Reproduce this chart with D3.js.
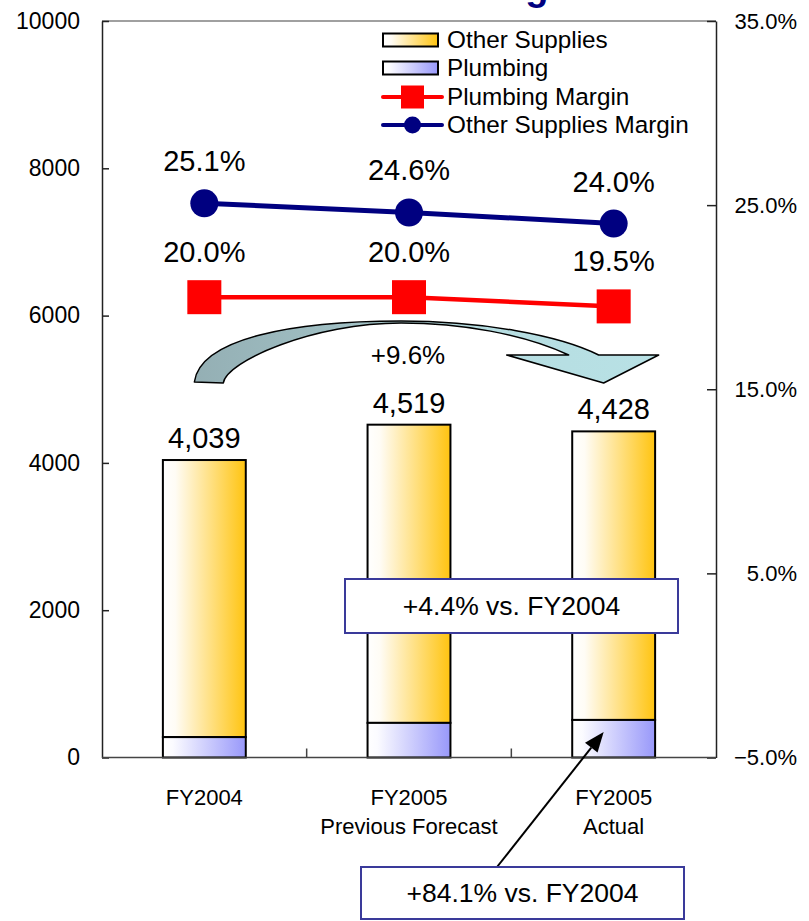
<!DOCTYPE html>
<html>
<head>
<meta charset="utf-8">
<script src="https://cdn.jsdelivr.net/npm/d3@7"></script>
<style>
  html, body { margin: 0; padding: 0; background: #ffffff; }
  svg { display: block; font-family: "Liberation Sans", Arial, sans-serif; }
</style>
</head>
<body>
<svg id="chart" width="809" height="921"></svg>
<script>
// ---- data ----
const categories = [["FY2004"], ["FY2005", "Previous Forecast"], ["FY2005", "Actual"]];
const plumbing = [277, 470, 510];
const otherSupplies = [3762, 4049, 3918];
const plumbingMargin = [20.0, 20.0, 19.5];
const otherSuppliesMargin = [25.1, 24.6, 24.0];
const leftTicks = [0, 2000, 4000, 6000, 8000, 10000];
const rightTicks = [-5, 5, 15, 25, 35];
const legendLabels = ["Other Supplies", "Plumbing", "Plumbing Margin", "Other Supplies Margin"];
const titleText = "Gross Profit Margin";
const growthTotal = "+9.6%";
const growthOther = "+4.4% vs. FY2004";
const growthPlumbing = "+84.1% vs. FY2004";

// ---- layout ----
const plot = { left: 102, right: 716, top: 21, bottom: 757.5 };
const NAVY = "#000080", RED = "#ff0000";

const svg = d3.select("#chart");
const defs = svg.append("defs");

function hGradient(id, stops) {
  const g = defs.append("linearGradient").attr("id", id)
    .attr("x1", 0).attr("y1", 0).attr("x2", 1).attr("y2", 0);
  stops.forEach(([o, c]) => g.append("stop").attr("offset", o).attr("stop-color", c));
}
hGradient("gradOther", [[0, "#ffffff"], [0.15, "#fffcf5"], [1, "#ffc410"]]);
hGradient("gradPlumb", [[0, "#ffffff"], [0.12, "#fbfbff"], [1, "#9898fa"]]);
hGradient("gradCurve", [[0, "#94afb4"], [0.45, "#a5c6ca"], [0.6, "#b6dde1"], [1, "#b8e1e5"]]);

const x = d3.scaleBand()
  .domain(d3.range(categories.length))
  .range([plot.left, plot.right])
  .paddingInner(0.595)
  .paddingOuter(0.2975);
const cx = i => x(i) + x.bandwidth() / 2;

const y = d3.scaleLinear().domain([0, 10000]).range([plot.bottom, plot.top]);
const y2 = d3.scaleLinear().domain([-5, 35]).range([plot.bottom, plot.top]);

// ---- title (runs off the top edge of the page) ----
svg.append("text")
  .attr("x", 405).attr("y", -0.5)
  .attr("text-anchor", "middle")
  .attr("font-size", 38).attr("font-weight", "bold")
  .attr("fill", NAVY)
  .text(titleText);

// ---- plot frame top ----
svg.append("line")
  .attr("x1", plot.left).attr("x2", plot.right)
  .attr("y1", plot.top).attr("y2", plot.top)
  .attr("stroke", "#808080").attr("stroke-width", 1.5);

// ---- stacked bars ----
const stacks = categories.map((c, i) => ({ i, p: plumbing[i], o: otherSupplies[i], total: plumbing[i] + otherSupplies[i] }));
const barG = svg.append("g");
barG.selectAll("rect.other").data(stacks).join("rect")
  .attr("class", "other")
  .attr("x", d => x(d.i)).attr("width", x.bandwidth())
  .attr("y", d => y(d.total)).attr("height", d => y(d.p) - y(d.total))
  .attr("fill", "url(#gradOther)").attr("stroke", "#000").attr("stroke-width", 2);
barG.selectAll("rect.plumb").data(stacks).join("rect")
  .attr("class", "plumb")
  .attr("x", d => x(d.i)).attr("width", x.bandwidth())
  .attr("y", d => y(d.p)).attr("height", d => y(0) - y(d.p))
  .attr("fill", "url(#gradPlumb)").attr("stroke", "#000").attr("stroke-width", 2);
barG.selectAll("text.total").data(stacks).join("text")
  .attr("class", "total")
  .attr("x", d => cx(d.i)).attr("y", d => y(d.total) - 12)
  .attr("text-anchor", "middle").attr("font-size", 29).attr("fill", "#000")
  .text(d => d3.format(",")(d.total));

// ---- axes ----
const axisColor = "#222";
const leftAxis = svg.append("g")
  .attr("transform", `translate(${plot.left},0)`)
  .call(d3.axisLeft(y).tickValues(leftTicks).tickSizeInner(-7).tickSizeOuter(0).tickPadding(22).tickFormat(d3.format("d")));
leftAxis.selectAll("text").attr("font-size", 23).attr("fill", "#000").attr("font-family", "Liberation Sans, Arial, sans-serif");

const rightAxis = svg.append("g")
  .attr("transform", `translate(${plot.right},0)`)
  .call(d3.axisRight(y2).tickValues(rightTicks).tickSizeInner(-9).tickSizeOuter(0).tickPadding(19)
    .tickFormat(d => d3.format(".1f")(d) + "%"));
rightAxis.selectAll("text")
  .attr("font-size", 22).attr("fill", "#000").attr("font-family", "Liberation Sans, Arial, sans-serif")
  .attr("text-anchor", "end").attr("x", 81);

[leftAxis, rightAxis].forEach(a => {
  a.select(".domain").attr("stroke", axisColor).attr("stroke-width", 1.5);
  a.selectAll(".tick line").attr("stroke", axisColor).attr("stroke-width", 1.5);
});

// category axis
const catAxis = svg.append("g");
catAxis.append("line")
  .attr("x1", plot.left).attr("x2", plot.right)
  .attr("y1", plot.bottom).attr("y2", plot.bottom)
  .attr("stroke", "#444").attr("stroke-width", 1.5);
catAxis.selectAll("line.tick").data(d3.range(1, categories.length)).join("line")
  .attr("class", "tick")
  .attr("x1", i => plot.left + i * x.step()).attr("x2", i => plot.left + i * x.step())
  .attr("y1", plot.bottom).attr("y2", plot.bottom - 9)
  .attr("stroke", "#444").attr("stroke-width", 1.5);
catAxis.selectAll("text.cat").data(categories).join("text")
  .attr("class", "cat")
  .attr("text-anchor", "middle").attr("font-size", 22).attr("fill", "#000")
  .each(function (lines, i) {
    d3.select(this).selectAll("tspan").data(lines).join("tspan")
      .attr("x", cx(i)).attr("y", (d, k) => 805 + k * 29)
      .text(d => d);
  });

// ---- curved growth arrow between FY2004 and FY2005 Actual ----
const a0 = cx(0), a2 = cx(2);
const topY = 321;
const mid = (a0 + a2) / 2 - 8;
const tipX = a2 - 10;
const curvePath = [
  `M${a0 - 10},382`,
  `C${a0 - 4},338 ${a0 + 90},${topY} ${mid},${topY}`,
  `C${mid + 80},${topY} ${tipX - 45},${topY + 14} ${tipX - 5},355`,
  `L${tipX + 55},355`,
  `L${tipX},383`,
  `L${tipX - 97},355`,
  `L${tipX - 35},355`,
  `C${tipX - 80},${topY + 13} ${mid + 60},${topY + 2} ${mid},${topY + 2}`,
  `C${a0 + 110},${topY + 2} ${a0 + 22},${topY + 40} ${a0 + 19},383`,
  "Z"
].join(" ");
svg.append("path")
  .attr("d", curvePath)
  .attr("fill", "url(#gradCurve)")
  .attr("stroke", "#000").attr("stroke-width", 1.5).attr("stroke-linejoin", "round");
svg.append("text")
  .attr("x", (a0 + a2) / 2 - 1).attr("y", 364)
  .attr("text-anchor", "middle").attr("font-size", 26).attr("fill", "#000")
  .text(growthTotal);

// ---- margin lines ----
const lineGen = d3.line().x((d, i) => cx(i));
svg.append("path")
  .datum(plumbingMargin)
  .attr("d", lineGen.y(d => y2(d)))
  .attr("fill", "none").attr("stroke", RED).attr("stroke-width", 4.5);
svg.selectAll("rect.pm").data(plumbingMargin).join("rect")
  .attr("class", "pm")
  .attr("x", (d, i) => cx(i) - 17).attr("y", d => y2(d) - 17)
  .attr("width", 34).attr("height", 34).attr("fill", RED);
svg.selectAll("text.pm").data(plumbingMargin).join("text")
  .attr("class", "pm")
  .attr("x", (d, i) => cx(i)).attr("y", d => y2(d) - 35)
  .attr("text-anchor", "middle").attr("font-size", 29).attr("fill", "#000")
  .text(d => d3.format(".1f")(d) + "%");

svg.append("path")
  .datum(otherSuppliesMargin)
  .attr("d", lineGen.y(d => y2(d)))
  .attr("fill", "none").attr("stroke", NAVY).attr("stroke-width", 5);
svg.selectAll("circle.om").data(otherSuppliesMargin).join("circle")
  .attr("class", "om")
  .attr("cx", (d, i) => cx(i)).attr("cy", d => y2(d))
  .attr("r", 14).attr("fill", NAVY);
svg.selectAll("text.om").data(otherSuppliesMargin).join("text")
  .attr("class", "om")
  .attr("x", (d, i) => cx(i)).attr("y", d => y2(d) - 32)
  .attr("text-anchor", "middle").attr("font-size", 29).attr("fill", "#000")
  .text(d => d3.format(".1f")(d) + "%");

// ---- legend ----
const legend = svg.append("g").attr("transform", "translate(383,0)");
const rowY = [40, 68, 97, 125];
legendLabels.forEach((label, k) => {
  const g = legend.append("g").attr("transform", `translate(0,${rowY[k]})`);
  if (k < 2) {
    g.append("rect").attr("x", 0).attr("y", -6.5).attr("width", 55).attr("height", 13)
      .attr("fill", k === 0 ? "url(#gradOther)" : "url(#gradPlumb)")
      .attr("stroke", "#000").attr("stroke-width", 2);
  } else {
    const col = k === 2 ? RED : NAVY;
    g.append("line").attr("x1", 0).attr("x2", 59).attr("y1", 0).attr("y2", 0)
      .attr("stroke", col).attr("stroke-width", 4).attr("stroke-linecap", "round");
    if (k === 2) {
      g.append("rect").attr("x", 18).attr("y", -11.5).attr("width", 23).attr("height", 23).attr("fill", col);
    } else {
      g.append("circle").attr("cx", 29.5).attr("cy", 0).attr("r", 8.5).attr("fill", col);
    }
  }
  g.append("text").attr("x", 64).attr("y", 8)
    .attr("font-size", 24.3).attr("fill", "#000").text(label);
});

// ---- callout boxes ----
function callout(x0, y0, w, h, text) {
  svg.append("rect").attr("x", x0).attr("y", y0).attr("width", w).attr("height", h)
    .attr("fill", "#fff").attr("stroke", "#3a3a9a").attr("stroke-width", 2);
  svg.append("text").attr("x", x0 + w / 2).attr("y", y0 + h / 2 + 9)
    .attr("text-anchor", "middle").attr("font-size", 26.5).attr("fill", "#000")
    .text(text);
}
callout(345, 579, 333, 54, growthOther);

// pointer from the plumbing callout to the FY2005 Actual plumbing segment
const tip = [cx(2) - 10, y(plumbing[2]) + 12];
const tail = [497, 867];
const ang = Math.atan2(tip[1] - tail[1], tip[0] - tail[0]);
const headLen = 20, headHalf = 8;
const base = [tip[0] - headLen * Math.cos(ang), tip[1] - headLen * Math.sin(ang)];
svg.append("line")
  .attr("x1", tail[0]).attr("y1", tail[1]).attr("x2", base[0]).attr("y2", base[1])
  .attr("stroke", "#000").attr("stroke-width", 2);
svg.append("path")
  .attr("d", `M${tip[0]},${tip[1]} L${base[0] + headHalf * Math.sin(ang)},${base[1] - headHalf * Math.cos(ang)} L${base[0] - headHalf * Math.sin(ang)},${base[1] + headHalf * Math.cos(ang)} Z`)
  .attr("fill", "#000");

callout(361, 867, 323, 52, growthPlumbing);
</script>
</body>
</html>
